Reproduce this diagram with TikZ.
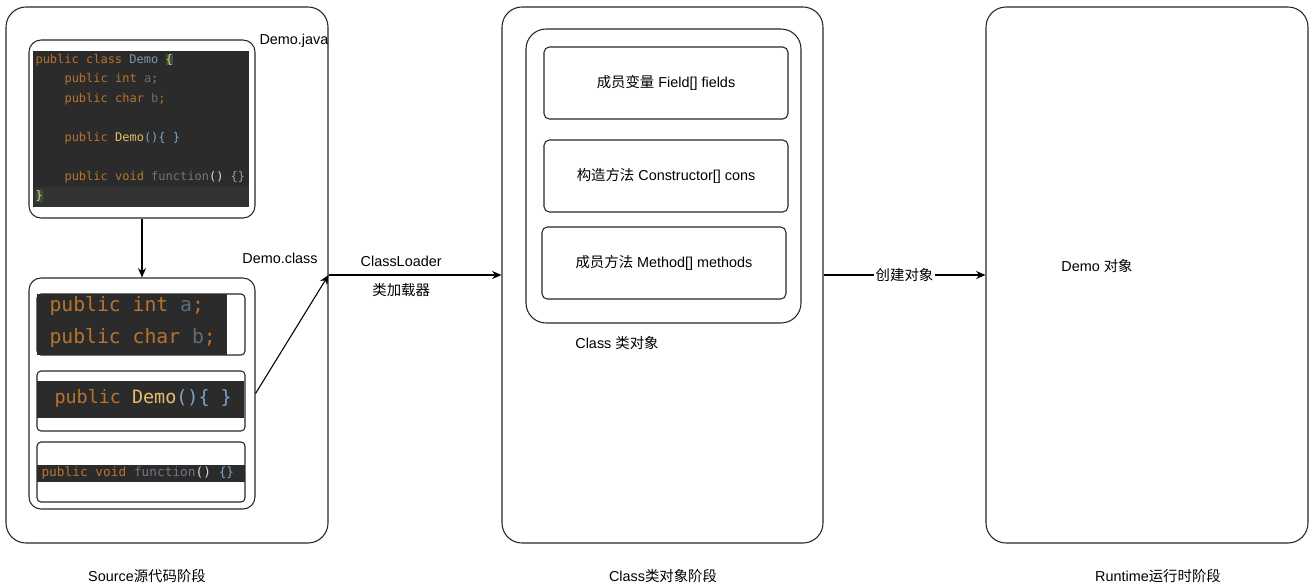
\documentclass[tikz,border=0pt]{standalone}
\usepackage{fontspec}
\setmainfont{Liberation Sans}
\setmonofont{DejaVu Sans Mono}
\newfontfamily\cjk{Noto Sans CJK SC}
\usetikzlibrary{
  positioning,
  fit,
  arrows.meta,
  }
\definecolor{codebg}{HTML}{2B2B2B}
\definecolor{codeline}{HTML}{323232}
\definecolor{kwcol}{HTML}{B8742E}
\definecolor{fldcol}{HTML}{5F6E7B}
\definecolor{clscol}{HTML}{8394A8}
\definecolor{fncol}{HTML}{E6BD6B}
\definecolor{brcol}{HTML}{7FA4C6}
\definecolor{grcol}{HTML}{6E7884}
\definecolor{bracebg}{HTML}{3A4F48}
\definecolor{bracefg}{HTML}{E8D44D}
\newcommand{\zh}[1]{{\cjk #1}}
\newcommand{\kw}[1]{\textcolor{kwcol}{#1}}
\newcommand{\fld}[1]{\textcolor{fldcol}{#1}}
\newcommand{\fn}[1]{\textcolor{fncol}{#1}}
\newcommand{\br}[1]{\textcolor{brcol}{#1}}
\newcommand{\hlbrace}[1]{{\fboxsep=0pt\colorbox{bracebg}{\textcolor{bracefg}{#1}}}}

\begin{document}
\begin{tikzpicture}
                [x=.75pt, y=-.75pt, line width=.8pt,
                 stage/.style={draw=black!85, rounded corners=15pt, inner sep=0},
                 codebox/.style={draw=black!85, rounded corners=9pt, inner sep=0},
                 partbox/.style={draw=black!85, rounded corners=3pt, inner sep=0},
                 memberbox/.style={draw=black!85, rounded corners=4pt, inner sep=0},
                 codebg/.style={fill=codebg, inner sep=0},
                 code/.style={anchor=west, inner sep=0, font=\ttfamily\fontsize{9}{11}\selectfont},
                 lbl/.style={inner sep=0, font=\fontsize{10.8}{12}\selectfont},
                 arrow/.style={-{Stealth[length=7pt, width=6pt]}}]
                \useasboundingbox (0,0) rectangle (1316,587);

                % three stages
                \node[stage, fit={(6,7) (328,543)}] (src) {};
                \node[stage, fit={(502,7) (823,543)}] (mid) {};
                \node[stage, fit={(986,7) (1308,543)}] (rt) {};

                % Demo.java
                \node[codebox, fit={(29,40) (255,218)}] (java) {};
                \node[codebg, fit={(33,51) (249,207)}] (javabg) {};
                \fill[codeline] (33,187) rectangle (249,207);
                \node[code] (j1) at (35,60) {\kw{public class} \textcolor{clscol}{Demo} \hlbrace{\{}};
                \node[code] (j2) at (64,79) {\kw{public int} \fld{a}\kw{;}};
                \node[code] (j3) at (64,99) {\kw{public char} \fld{b}\kw{;}};
                \node[code] (j4) at (64,138) {\kw{public} \fn{Demo}\br{()\{ \}}};
                \node[code] (j5) at (64,177) {\kw{public void} \textcolor{grcol}{function}\textcolor{black!15}{()} \br{\{\}}};
                \node[code] (j6) at (35,196) {\hlbrace{\}}};
                \node[lbl] (javalbl) at (294,41) {Demo.java};

                % Demo.class
                \node[codebox, fit={(29,278) (255,509)}] (cls) {};
                \node[partbox, fit={(37,294) (245,355)}] (parta) {};
                \node[codebg, fit={(37,294) (227,355)}] (partabg) {};
                \node[code, font=\ttfamily\fontsize{14.8}{16}\selectfont] (a1) at (49,306) {\kw{public int} \fld{a}\kw{;}};
                \node[code, font=\ttfamily\fontsize{14.8}{16}\selectfont] (a2) at (49,338) {\kw{public char} \fld{b}\kw{;}};
                \node[partbox, fit={(37,371) (245,431)}] (partb) {};
                \node[codebg, fit={(37,381) (244,418)}] (partbbg) {};
                \node[code, font=\ttfamily\fontsize{13.8}{15}\selectfont] (b1) at (54,398) {\kw{public} \fn{Demo}\br{()\{ \}}};
                \node[partbox, fit={(37,442) (245,502)}] (partc) {};
                \node[codebg, fit={(37,465) (245,482)}] (partcbg) {};
                \node[code, font=\ttfamily\fontsize{9.6}{11}\selectfont] (c1) at (41,473) {\kw{public void} \textcolor{grcol}{function}\textcolor{black!15}{()} \br{\{\}}};
                \node[lbl] (clslbl) at (280,258) {Demo.class};

                % Class object
                \node[stage, fit={(526,29) (801,323)}] (clsobj) {};
                \node[memberbox, fit={(544,47) (788,119)}] (fields) {};
                \node[memberbox, fit={(544,140) (788,212)}] (cons) {};
                \node[memberbox, fit={(542,227) (786,299)}] (methods) {};
                \node[lbl] (fieldslbl) at (fields.center) {\zh{成员变量} Field[] fields};
                \node[lbl] (conslbl) at (cons.center) {\zh{构造方法} Constructor[] cons};
                \node[lbl] (methodslbl) at (methods.center) {\zh{成员方法} Method[] methods};
                \node[lbl] (clsobjlbl) at (617,343) {Class \zh{类对象}};

                % runtime
                \node[lbl] (obj) at (1097,266) {Demo \zh{对象}};

                % stage names
                \node[lbl] (srcname) at (147,576) {Source\zh{源代码阶段}};
                \node[lbl] (midname) at (663,576) {Class\zh{类对象阶段}};
                \node[lbl] (rtname) at (1158,576) {Runtime\zh{运行时阶段}};

                \draw[arrow] (java.south) -- (cls.north);
                \draw[arrow] (cls.east) -- (src.east);
                \draw[arrow] (src.east) -- (mid.west)
                    node[lbl, pos=.42, above=6pt] (loader) {ClassLoader}
                    node[lbl, pos=.42, below=6pt] (loaderzh) {\zh{类加载器}};
                \draw[arrow] (mid.east) -- (rt.west)
                    node[lbl, midway, fill=white, inner sep=1pt] (create) {\zh{创建对象}};

            \end{tikzpicture}
\end{document}
